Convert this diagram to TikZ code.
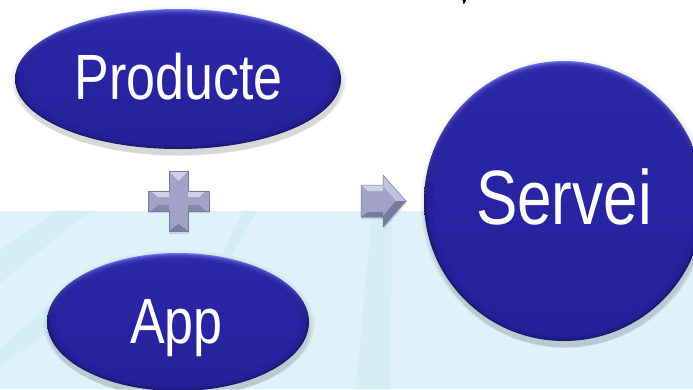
\documentclass[tikz,border=0pt]{standalone}
\usepackage{fontspec}
\setmainfont{Liberation Sans}
\usetikzlibrary{shapes.geometric}
\definecolor{basecol}{HTML}{2824A2}
\definecolor{basetop}{HTML}{2A27A9}
\definecolor{basebot}{HTML}{26219A}
\definecolor{toplight}{HTML}{7376F2}
\definecolor{edgedark}{HTML}{1A1668}
\definecolor{skyband}{HTML}{DFF1F9}
\definecolor{streak}{HTML}{D5EDF4}
\definecolor{metal}{HTML}{A2A2C6}
\definecolor{metallight}{HTML}{D0D0E6}
\definecolor{metaldark}{HTML}{7A7AA0}
\tikzset{
  x=1pt,y=-1pt,
  bluecore/.style={ellipse,top color=basetop,bottom color=basebot,inner sep=0pt},
  smalllabel/.style={anchor=base,text=white,font=\fontsize{50}{50}\selectfont,xscale=1.04,yscale=1.28,transform shape},
  biglabel/.style={anchor=base,text=white,font=\fontsize{50}{50}\selectfont,xscale=1.24,yscale=1.54,transform shape},
}
\newcommand{\bevelblob}[4]{%
  \foreach \k in {1,...,8}
    \fill[black,opacity=.018] (#1+1,#2+1+\k*.8) ellipse [x radius=#3+6-\k*.9,y radius=#4+6-\k*.9];
  \shade[top color=toplight,bottom color=edgedark,middle color=edgedark] (#1,#2) ellipse [x radius=#3,y radius=#4];
  \foreach \k in {1,...,9}
    \fill[basecol,opacity=.24] (#1,#2+\k*.08) ellipse [x radius=#3-\k*.7,y radius=#4-\k*.7];
}
\begin{document}
\begin{tikzpicture}
\useasboundingbox (0,0) rectangle (693,389);
\fill[white] (0,0) rectangle (693,389);
\fill[skyband] (0,211) rectangle (693,389);
% pale streaks of the backdrop
\fill[streak] (57,211) -- (90,211) -- (0,283) -- (0,250) -- cycle;
\fill[streak] (47,305) -- (60,325) -- (0,365) -- (0,350) -- cycle;
\fill[streak] (243,211) -- (257,211) -- (232,255) -- (222,255) -- cycle;
\fill[streak] (372,211) -- (392,211) -- (390,389) -- (356,389) -- cycle;
% small mark at the top edge
\fill[black] (462.5,0) -- (466,0) -- (465,2.5) -- (463.5,4) -- cycle;
% blobs
\bevelblob{178}{79}{163}{70}
\bevelblob{564}{201}{140}{140}
\bevelblob{178}{322}{131}{69}
\node[bluecore,minimum width=308pt,minimum height=122pt] (producte) at (178,80) {};
\node[bluecore,minimum width=262pt,minimum height=262pt] (servei) at (564,202) {};
\node[bluecore,minimum width=244pt,minimum height=120pt] (app) at (178,323) {};
\node[smalllabel] (producteText) at (178.5,99) {Producte};
\node[biglabel] (serveiText) at (564,224) {Servei};
\node[smalllabel] (appText) at (176.5,343) {App};
% plus sign
\fill[black,opacity=.12] (169,173) -- (189,173) -- (189,193) -- (210,193) -- (210,213) -- (189,213) -- (189,234) -- (169,234) -- (169,213) -- (148,213) -- (148,193) -- (169,193) -- cycle;
\fill[metal] (169,171) -- (188,171) -- (188,191) -- (209,191) -- (209,211) -- (188,211) -- (188,231) -- (169,231) -- (169,211) -- (148,211) -- (148,191) -- (169,191) -- cycle;
\fill[metallight] (169,171) -- (188,171) -- (178.5,181) -- cycle;
\fill[metallight] (151,191) -- (158,197) -- (169,197) -- (169,191) -- cycle;
\fill[metallight] (188,191) -- (206,191) -- (199,197) -- (188,197) -- cycle;
\fill[metaldark] (169,231) -- (188,231) -- (178.5,224) -- cycle;
\fill[metaldark!70!metal] (151,211) -- (158,205) -- (169,205) -- (169,211) -- cycle;
\fill[metaldark!70!metal] (206,211) -- (199,205) -- (188,205) -- (188,211) -- cycle;
\draw[metaldark,line width=.6pt] (169,171) -- (188,171) -- (188,191) -- (209,191) -- (209,211) -- (188,211) -- (188,231) -- (169,231) -- (169,211) -- (148,211) -- (148,191) -- (169,191) -- cycle;
% arrow sign
\fill[black,opacity=.12] (361,187) -- (384,187) -- (384,177) -- (407,203) -- (384,229) -- (384,219) -- (361,219) -- cycle;
\fill[metal] (361,185) -- (383,185) -- (383,175) -- (406,201) -- (383,227) -- (383,217) -- (361,217) -- cycle;
\fill[metallight] (361,185) -- (383,185) -- (383,191) -- (368,191) -- cycle;
\fill[metaldark] (361,217) -- (383,217) -- (383,212) -- (368,212) -- cycle;
\fill[metallight!70!metal] (383,175) -- (406,201) -- (396,201) -- (383,186) -- cycle;
\fill[metaldark] (383,227) -- (406,201) -- (396,201) -- (383,216) -- cycle;
\draw[metaldark,line width=.5pt] (361,185) -- (383,185) -- (383,175) -- (406,201) -- (383,227) -- (383,217) -- (361,217) -- cycle;
\end{tikzpicture}
\end{document}
